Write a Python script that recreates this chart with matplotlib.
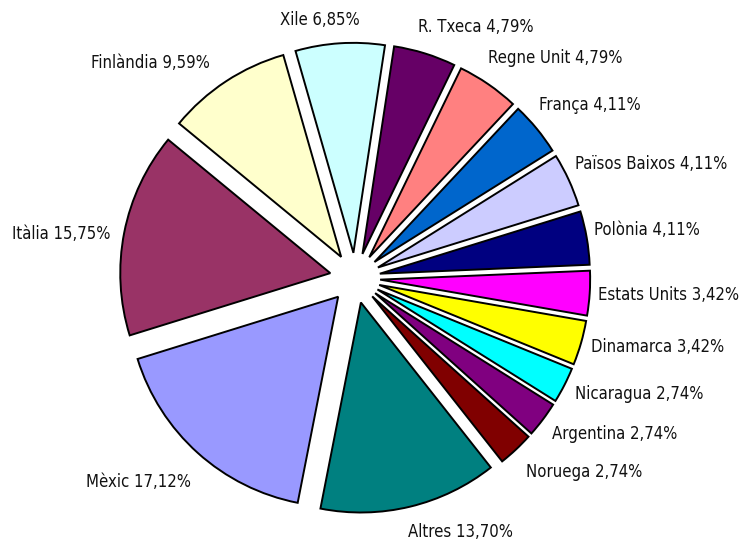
import numpy as np
import matplotlib
matplotlib.use("Agg")
import matplotlib.pyplot as plt

labels = ["Xile", "R. Txeca", "Regne Unit", "França", "Països Baixos", "Polònia",
          "Estats Units", "Dinamarca", "Nicaragua", "Argentina", "Noruega",
          "Altres", "Mèxic", "Itàlia", "Finlàndia"]
values = [6.85, 4.79, 4.79, 4.11, 4.11, 4.11, 3.42, 3.42, 2.74, 2.74, 2.74,
          13.70, 17.12, 15.75, 9.59]
colors = ["#CCFFFF", "#660066", "#FF8080", "#0066CC", "#CCCCFF", "#000080",
          "#FF00FF", "#FFFF00", "#00FFFF", "#800080", "#800000",
          "#008080", "#9999FF", "#993366", "#FFFFCC"]

# label anchor positions in pixels (x, y from top), horizontal alignment
label_layout = [(320, 20, 'center'), (418, 27, 'left'), (488, 58, 'left'),
                (539, 105, 'left'), (575, 164, 'left'), (594, 230, 'left'),
                (598, 295, 'left'), (591, 347, 'left'), (575, 394, 'left'),
                (552, 434, 'left'), (526, 472, 'left'), (408, 532, 'left'),
                (191, 482, 'right'), (111, 234, 'right'), (210, 63, 'right')]

W, H = 742, 543
fig = plt.figure(figsize=(W / 100, H / 100), dpi=100)
ax = fig.add_axes([0, 0, 1, 1])

cx, cy, R = 355, 278, 210
explode = [0.12] * len(values)
wedges, _ = ax.pie(values, colors=colors, startangle=106, counterclock=False,
                   explode=explode, radius=1.0,
                   wedgeprops=dict(edgecolor="black", linewidth=1.4))

ax.set_aspect('auto')
ax.set_xlim(-cx / R, (W - cx) / R)
ax.set_ylim(-(H - cy) / R, cy / R)
ax.axis('off')

for (px, py, ha), lab, v in zip(label_layout, labels, values):
    x = (px - cx) / R
    y = (cy - py) / R
    txt = f"{lab} " + f"{v:.2f}".replace('.', ',') + "%"
    ax.text(x, y, txt, ha=ha, va='center', fontsize=12,
            family='DejaVu Sans', fontstretch='condensed', color='#111111')

fig.savefig("out.png", dpi=100)
